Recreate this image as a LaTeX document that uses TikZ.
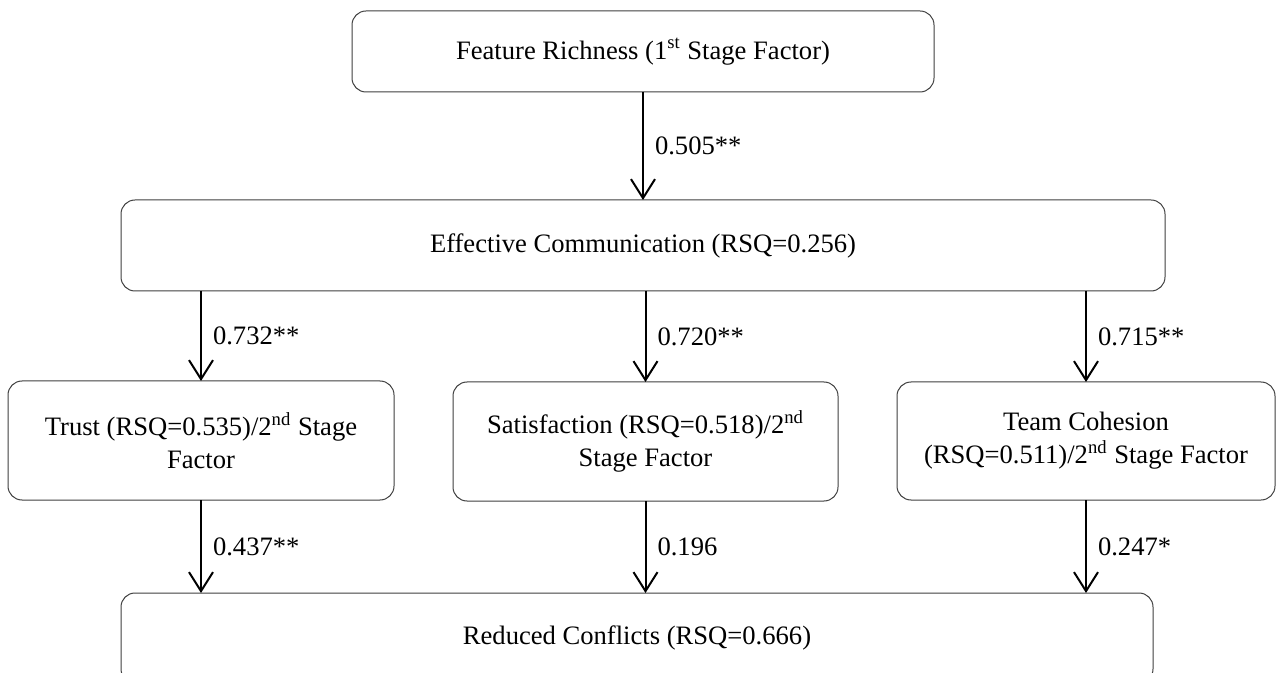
\documentclass[tikz,border=0pt]{standalone}
\usepackage{fontspec}
\setmainfont{Liberation Serif}
\usetikzlibrary{arrows.meta}
\begin{document}
\begin{tikzpicture}[x=0.5pt,y=-0.5pt,
  box/.style={draw=black!75, line width=0.5pt, rounded corners=7pt, inner sep=0pt, outer sep=0pt, align=center, font=\fontsize{13.3}{16.5}\selectfont},
  arr/.style={draw=black, line width=1pt, -{Straight Barb[length=9.5pt,width=12pt,line width=1pt]}},
  lbl/.style={midway, anchor=west, inner sep=0pt, xshift=5.5pt, font=\fontsize{13.3}{16.5}\selectfont}]
\useasboundingbox (0,0) rectangle (1279,673);
\fill[white] (0,0) rectangle (1279,673);
\clip (0,0) rectangle (1279,673);
\node[box, minimum width=291pt, minimum height=40.5pt] (top) at (643,51.5) {Feature Richness (1\textsuperscript{st} Stage Factor)};
\node[box, minimum width=522pt, minimum height=45.5pt] (ec) at (643,245.5) {Effective Communication (RSQ=0.256)};
\node[box, minimum width=193pt, minimum height=59.5pt] (trust) at (201,440.5) {Trust (RSQ=0.535)/2\textsuperscript{nd} Stage\\Factor};
\node[box, minimum width=192.5pt, minimum height=59.5pt] (sat) at (645.5,441.5) {Satisfaction (RSQ=0.518)/2\textsuperscript{nd}\\Stage Factor};
\node[box, minimum width=189pt, minimum height=59pt] (team) at (1086,441) {Team Cohesion\\(RSQ=0.511)/2\textsuperscript{nd} Stage Factor};
\node[box, minimum width=516pt, minimum height=45pt] (bot) at (637,638) {Reduced Conflicts (RSQ=0.666)};
\draw[arr] (top.south) -- (top.south |- ec.north) node[lbl] {0.505**};
\draw[arr] (trust.north |- ec.south) -- (trust.north) node[lbl] {0.732**};
\draw[arr] (sat.north |- ec.south) -- (sat.north) node[lbl] {0.720**};
\draw[arr] (team.north |- ec.south) -- (team.north) node[lbl] {0.715**};
\draw[arr] (trust.south) -- (trust.south |- bot.north) node[lbl] {0.437**};
\draw[arr] (sat.south) -- (sat.south |- bot.north) node[lbl] {0.196};
\draw[arr] (team.south) -- (team.south |- bot.north) node[lbl] {0.247*};
\end{tikzpicture}
\end{document}
